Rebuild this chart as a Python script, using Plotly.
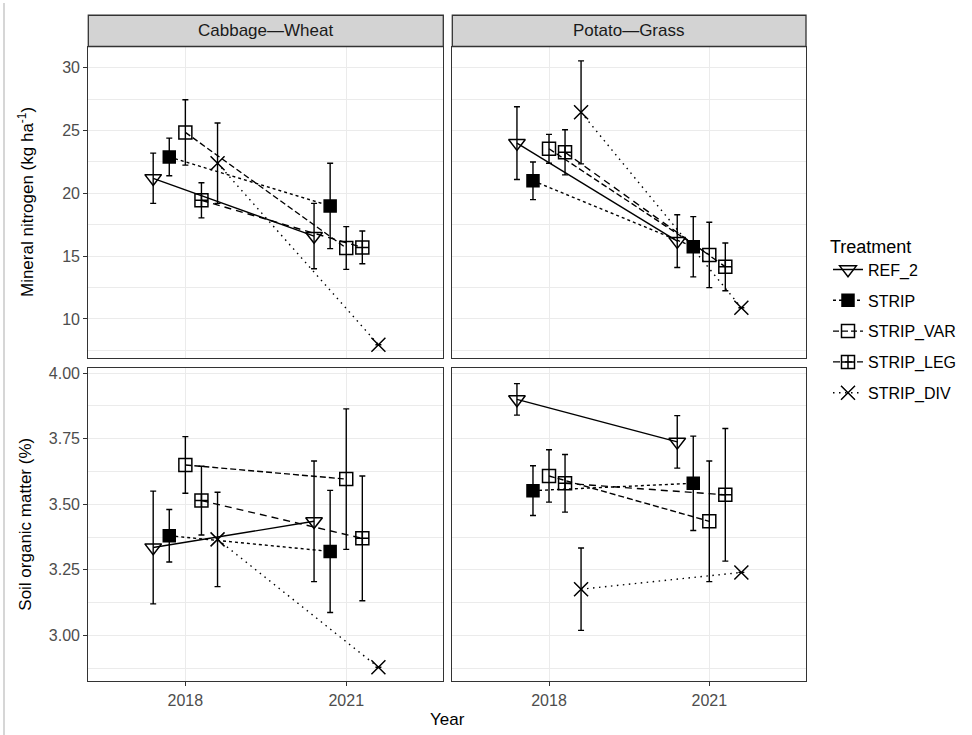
import plotly.graph_objects as go

# ---------------- data ----------------
treatments = ["REF_2", "STRIP", "STRIP_VAR", "STRIP_LEG", "STRIP_DIV"]
years = [2018, 2021]
systems = ["Cabbage—Wheat", "Potato—Grass"]

# [mean 2018, mean 2021] per treatment
nmin_cw_mean = [[21.2, 16.6], [22.9, 19.0], [24.85, 15.65], [19.45, 15.7], [22.4, 7.95]]
nmin_cw_err = [[2.0, 2.6], [1.5, 3.4], [2.6, 1.7], [1.4, 1.3], [3.2, None]]
nmin_pg_mean = [[24.0, 16.2], [21.0, 15.75], [23.55, 15.1], [23.27, 14.15], [26.45, 10.9]]
nmin_pg_err = [[2.9, 2.1], [1.5, 2.4], [1.15, 2.6], [1.8, 1.9], [4.1, None]]
som_cw_mean = [[3.335, 3.435], [3.38, 3.32], [3.65, 3.596], [3.514, 3.37], [3.366, 2.878]]
som_cw_err = [[0.215, 0.23], [0.1, 0.233], [0.108, 0.268], [0.131, 0.238], [0.18, None]]
som_pg_mean = [[3.90, 3.738], [3.552, 3.58], [3.608, 3.435], [3.58, 3.536], [3.176, 3.24]]
som_pg_err = [[0.06, 0.1], [0.095, 0.18], [0.1, 0.23], [0.11, 0.253], [0.157, None]]

nmin_ticks = [10, 15, 20, 25, 30]
som_ticks = [3.00, 3.25, 3.50, 3.75, 4.00]

# ---------------- styles ----------------
W, H = 972, 735
FONT = "Liberation Sans, Arial, sans-serif"
symbols = ["triangle-down-open", "square", "square-open", "square-cross-open", "x-thin-open"]
msizes = [14.5, 12, 13, 13, 14]
dashes = ["solid", "3px,3px", "6px,3px", "7px,5px", "1.5px,4.5px"]
dodge = 0.3

def fx(p):
    return p / W

def fy(p):
    return 1 - p / H

panels = [
    ("x", "y", nmin_cw_mean, nmin_cw_err),
    ("x2", "y2", nmin_pg_mean, nmin_pg_err),
    ("x3", "y3", som_cw_mean, som_cw_err),
    ("x4", "y4", som_pg_mean, som_pg_err),
]

fig = go.Figure()
for pi, (xa, ya, means, errs) in enumerate(panels):
    for i, tr in enumerate(treatments):
        off = (i - 2) * dodge
        fig.add_trace(go.Scatter(
            x=[yr + off for yr in years],
            y=means[i],
            xaxis=xa, yaxis=ya,
            mode="lines+markers",
            name=tr,
            legendgroup=tr,
            showlegend=(pi == 0),
            line=dict(color="black", width=1.4, dash=dashes[i]),
            marker=dict(symbol=symbols[i], size=msizes[i], color="black",
                        line=dict(color="black", width=1.5)),
            error_y=dict(type="data", array=errs[i], visible=True,
                         color="black", thickness=1.4, width=3),
        ))

# ---------------- layout ----------------
xl = [(88.3, 443.3), (452.3, 806.0)]
yt = [(43.7, 356.0), (366.7, 681.0)]

base_axis = dict(showline=True, mirror=True, linecolor="#333333", linewidth=1.3,
                 gridcolor="#EBEBEB", gridwidth=1.2, zeroline=False,
                 tickcolor="#333333", tickwidth=1.2, ticklen=4,
                 tickfont=dict(family=FONT, size=16, color="#4D4D4D"))

layout_axes = {}
for k in range(4):
    col = k % 2
    row = k // 2
    xname = "xaxis" if k == 0 else f"xaxis{k+1}"
    yname = "yaxis" if k == 0 else f"yaxis{k+1}"
    xa = dict(base_axis)
    xa.update(domain=[fx(xl[col][0]), fx(xl[col][1])], range=[2016.19, 2022.81],
              tickmode="array", tickvals=years, ticktext=[str(y) for y in years],
              anchor="y" if k == 0 else f"y{k+1}",
              ticks="outside" if row == 1 else "", showticklabels=(row == 1))
    ya = dict(base_axis)
    ya.update(domain=[fy(yt[row][1]), fy(yt[row][0])],
              anchor="x" if k == 0 else f"x{k+1}",
              ticks="outside" if col == 0 else "", showticklabels=(col == 0))
    if row == 0:
        ya.update(range=[6.93, 31.69], tickmode="array", tickvals=nmin_ticks,
                  minor=dict(tickmode="linear", tick0=0, dtick=2.5, showgrid=True,
                             gridcolor="#EBEBEB", gridwidth=1.0))
    else:
        ya.update(range=[2.825, 4.019], tickmode="array", tickvals=som_ticks,
                  ticktext=[f"{v:.2f}" for v in som_ticks],
                  minor=dict(tickmode="linear", tick0=0, dtick=0.125, showgrid=True,
                             gridcolor="#EBEBEB", gridwidth=1.0))
    layout_axes[xname] = xa
    layout_axes[yname] = ya

shapes = []
annotations = []
for col in range(2):
    shapes.append(dict(type="rect", xref="paper", yref="paper",
                       x0=fx(xl[col][0]), x1=fx(xl[col][1]),
                       y0=fy(43.7), y1=fy(12.3),
                       fillcolor="#D3D3D3", line=dict(color="#333333", width=1.3),
                       layer="above"))
    annotations.append(dict(text=systems[col], xref="paper", yref="paper",
                            x=fx((xl[col][0] + xl[col][1]) / 2), y=fy(28),
                            xanchor="center", yanchor="middle", showarrow=False,
                            font=dict(family=FONT, size=17, color="#1A1A1A")))

shapes.append(dict(type="line", xref="paper", yref="paper",
                   x0=fx(4), x1=fx(4), y0=0, y1=1,
                   line=dict(color="#C8C8C8", width=1.5)))

annotations += [
    dict(text="Mineral nitrogen (kg ha<sup>-1</sup>)", xref="paper", yref="paper",
         x=fx(26), y=fy((yt[0][0] + yt[0][1]) / 2), textangle=-90,
         xanchor="center", yanchor="middle", showarrow=False,
         font=dict(family=FONT, size=17, color="black")),
    dict(text="Soil organic matter (%)", xref="paper", yref="paper",
         x=fx(26), y=fy((yt[1][0] + yt[1][1]) / 2), textangle=-90,
         xanchor="center", yanchor="middle", showarrow=False,
         font=dict(family=FONT, size=17, color="black")),
    dict(text="Year", xref="paper", yref="paper",
         x=fx((xl[0][0] + xl[1][1]) / 2), y=fy(719),
         xanchor="center", yanchor="middle", showarrow=False,
         font=dict(family=FONT, size=17, color="black")),
]

fig.update_layout(
    width=W, height=H,
    margin=dict(l=0, r=0, t=0, b=0),
    paper_bgcolor="white", plot_bgcolor="white",
    font=dict(family=FONT, color="black"),
    shapes=shapes, annotations=annotations,
    legend=dict(x=fx(828), xanchor="left", y=fy(318), yanchor="middle",
                title=dict(text="Treatment", font=dict(family=FONT, size=18, color="black")),
                font=dict(family=FONT, size=16, color="black"),
                tracegroupgap=7, itemwidth=30, bgcolor="rgba(0,0,0,0)"),
    **layout_axes,
)

fig.write_html("out.html")
